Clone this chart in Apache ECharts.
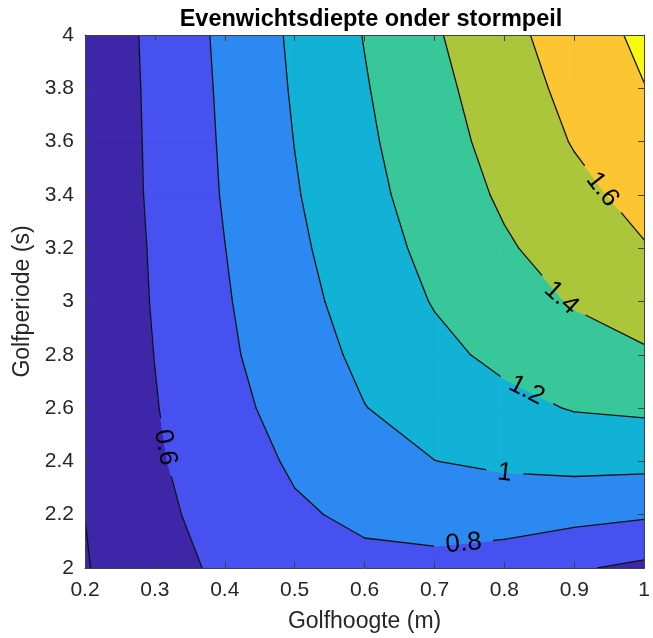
<!DOCTYPE html>
<html>
<head>
<meta charset="utf-8">
<script src="https://cdn.jsdelivr.net/npm/echarts@6/dist/echarts.min.js"></script>
<style>
  html, body { margin: 0; padding: 0; background: #fff; }
  #chart { width: 653px; height: 638px; }
</style>
</head>
<body>
<div id="chart"></div>
<script>
// grid of the computed equilibrium depth
const golfhoogte = [0.2, 0.3, 0.4, 0.5, 0.6, 0.7, 0.8, 0.9, 1.0];
const golfperiode = [2.0, 2.2, 2.4, 2.6, 2.8, 3.0, 3.2, 3.4, 3.6, 3.8, 4.0];
// rows follow golfperiode, columns follow golfhoogte
const diepte = [
  [0.387, 0.550, 0.624, 0.700, 0.755, 0.749, 0.709, 0.620, 0.560],
  [0.401, 0.560, 0.665, 0.775, 0.835, 0.874, 0.879, 0.856, 0.823],
  [0.420, 0.577, 0.707, 0.825, 0.916, 0.998, 1.033, 1.057, 1.054],
  [0.426, 0.591, 0.740, 0.874, 0.996, 1.074, 1.148, 1.211, 1.233],
  [0.430, 0.603, 0.767, 0.910, 1.040, 1.153, 1.244, 1.320, 1.379],
  [0.434, 0.614, 0.783, 0.939, 1.080, 1.211, 1.316, 1.414, 1.487],
  [0.437, 0.621, 0.798, 0.963, 1.115, 1.253, 1.378, 1.485, 1.589],
  [0.440, 0.631, 0.814, 0.986, 1.144, 1.291, 1.428, 1.549, 1.660],
  [0.443, 0.635, 0.823, 1.003, 1.167, 1.321, 1.470, 1.612, 1.727],
  [0.446, 0.639, 0.832, 1.018, 1.187, 1.348, 1.505, 1.656, 1.795],
  [0.450, 0.645, 0.842, 1.031, 1.207, 1.379, 1.543, 1.696, 1.843]
];
const niveaus = [0.4, 0.6, 0.8, 1.0, 1.2, 1.4, 1.6, 1.8];
// one colour per band: below 0.4, 0.4-0.6, ..., above 1.8
const kleuren = ['#3d26a7', '#3d26a7', '#4651f0', '#2c89f1', '#12b1d6', '#38c798', '#abc63a', '#fcc532', '#f8fa0d'];

// contour labels (approximate spot on the line)
const labelH = [0.306, 0.742, 0.800, 0.829, 0.877, 0.933];
const labelT = [2.449, 2.084, 2.338, 2.651, 3.003, 3.406];
const labelNiveau = [0.6, 0.8, 1.0, 1.2, 1.4, 1.6];

const FONT = '"Liberation Sans", Arial, Helvetica, sans-serif';
const LABEL_SIZE = 26;

const cellen = [];
for (let j = 0; j < golfperiode.length - 1; j++) {
  for (let i = 0; i < golfhoogte.length - 1; i++) {
    cellen.push([golfhoogte[i], golfperiode[j], i, j]);
  }
}

// corners of a cell in pixels with their value: bl, br, tr, tl
function hoeken(api, i, j) {
  return [[i, j], [i + 1, j], [i + 1, j + 1], [i, j + 1]].map(([a, b]) => {
    const p = api.coord([golfhoogte[a], golfperiode[b]]);
    return [p[0], p[1], diepte[b][a]];
  });
}

function clip(poly, level, boven) {
  const out = [];
  const binnen = p => (boven ? p[2] >= level : p[2] < level);
  for (let k = 0; k < poly.length; k++) {
    const a = poly[k], b = poly[(k + 1) % poly.length];
    const ia = binnen(a), ib = binnen(b);
    if (ia) out.push(a);
    if (ia !== ib) {
      const t = (level - a[2]) / (b[2] - a[2]);
      out.push([a[0] + t * (b[0] - a[0]), a[1] + t * (b[1] - a[1]), level]);
    }
  }
  return out;
}

function segmenten(quad, level) {
  const pts = [];
  for (let e = 0; e < 4; e++) {
    const a = quad[e], b = quad[(e + 1) % 4];
    if ((a[2] < level) !== (b[2] < level)) {
      const t = (level - a[2]) / (b[2] - a[2]);
      pts.push([a[0] + t * (b[0] - a[0]), a[1] + t * (b[1] - a[1])]);
    }
  }
  if (pts.length === 2) return [[pts[0], pts[1]]];
  if (pts.length === 4) {
    const mid = (quad[0][2] + quad[1][2] + quad[2][2] + quad[3][2]) / 4;
    if ((mid < level) === (quad[0][2] < level)) return [[pts[0], pts[1]], [pts[2], pts[3]]];
    return [[pts[3], pts[0]], [pts[1], pts[2]]];
  }
  return [];
}

// parameters where segment p->q meets a circle
function snijT(p, q, c, r) {
  const dx = q[0] - p[0], dy = q[1] - p[1];
  const fx = p[0] - c[0], fy = p[1] - c[1];
  const a = dx * dx + dy * dy;
  const b = 2 * (dx * fx + dy * fy);
  const cc = fx * fx + fy * fy - r * r;
  const disc = b * b - 4 * a * cc;
  if (a === 0 || disc <= 0) return null;
  const s = Math.sqrt(disc);
  return [(-b - s) / (2 * a), (-b + s) / (2 * a)];
}

function tekstBreedte(tekst) {
  const ctx = document.createElement('canvas').getContext('2d');
  ctx.font = LABEL_SIZE + 'px ' + FONT;
  return ctx.measureText(tekst).width;
}

let plaatsen = null;
function labelPlaatsen(api) {
  if (plaatsen) return plaatsen;
  plaatsen = labelNiveau.map((level, n) => {
    const p0 = api.coord([labelH[n], labelT[n]]);
    const segs = [];
    cellen.forEach(c => segs.push(...segmenten(hoeken(api, c[2], c[3]), level)));
    let best = null, bd = Infinity;
    segs.forEach(([a, b]) => {
      const dx = b[0] - a[0], dy = b[1] - a[1];
      const len2 = dx * dx + dy * dy;
      let t = len2 ? ((p0[0] - a[0]) * dx + (p0[1] - a[1]) * dy) / len2 : 0;
      t = Math.max(0, Math.min(1, t));
      const x = a[0] + t * dx, y = a[1] + t * dy;
      const d = (x - p0[0]) ** 2 + (y - p0[1]) ** 2;
      if (d < bd) { bd = d; best = { x, y, dx, dy }; }
    });
    const tekst = String(level);
    const r = tekstBreedte(tekst) / 2 + 12;
    const c = [best.x, best.y];
    const hits = [];
    segs.forEach(([a, b]) => {
      const ts = snijT(a, b, c, r);
      if (!ts) return;
      ts.forEach(t => {
        if (t >= 0 && t <= 1) hits.push([a[0] + t * (b[0] - a[0]), a[1] + t * (b[1] - a[1])]);
      });
    });
    let dx = best.dx, dy = best.dy;
    if (hits.length === 2) { dx = hits[1][0] - hits[0][0]; dy = hits[1][1] - hits[0][1]; }
    if (dx < 0) { dx = -dx; dy = -dy; }
    return { x: best.x, y: best.y, r, level, tekst, rot: -Math.atan2(dy, dx) };
  });
  return plaatsen;
}

// pieces of p->q that stay outside the label gaps
function stukken(p, q, gaten) {
  let delen = [[0, 1]];
  gaten.forEach(g => {
    const ts = snijT(p, q, [g.x, g.y], g.r);
    if (!ts) return;
    const nieuw = [];
    delen.forEach(([s, e]) => {
      const a = Math.max(s, ts[0]), b = Math.min(e, ts[1]);
      if (a >= b) { nieuw.push([s, e]); return; }
      if (a > s) nieuw.push([s, a]);
      if (b < e) nieuw.push([b, e]);
    });
    delen = nieuw;
  });
  return delen.map(([s, e]) => [
    [p[0] + s * (q[0] - p[0]), p[1] + s * (q[1] - p[1])],
    [p[0] + e * (q[0] - p[0]), p[1] + e * (q[1] - p[1])]
  ]);
}

function renderVulling(params, api) {
  const quad = hoeken(api, api.value(2), api.value(3));
  const children = [];
  for (let k = 0; k <= niveaus.length; k++) {
    let poly = quad;
    if (k > 0) poly = clip(poly, niveaus[k - 1], true);
    if (k < niveaus.length) poly = clip(poly, niveaus[k], false);
    if (poly.length < 3) continue;
    children.push({
      type: 'polygon',
      shape: { points: poly.map(p => [p[0], p[1]]) },
      style: { fill: kleuren[k], stroke: kleuren[k], lineWidth: 1 }
    });
  }
  return { type: 'group', children };
}

function renderLijnen(params, api) {
  const gaten = labelPlaatsen(api);
  const quad = hoeken(api, api.value(2), api.value(3));
  const children = [];
  niveaus.forEach(level => {
    segmenten(quad, level).forEach(([p, q]) => {
      stukken(p, q, gaten.filter(g => g.level === level)).forEach(([a, b]) => {
        children.push({
          type: 'line',
          shape: { x1: a[0], y1: a[1], x2: b[0], y2: b[1] },
          style: { stroke: '#111', lineWidth: 1.3, lineCap: 'round' }
        });
      });
    });
  });
  return { type: 'group', children };
}

function renderLabel(params, api) {
  const l = labelPlaatsen(api)[params.dataIndex];
  return {
    type: 'text',
    x: l.x,
    y: l.y,
    rotation: l.rot,
    style: {
      text: l.tekst,
      fill: '#000',
      font: LABEL_SIZE + 'px ' + FONT,
      align: 'center',
      verticalAlign: 'middle'
    }
  };
}

const asKleur = '#404040';
const tekstKleur = '#262626';
const fmt = v => String(Math.round(v * 10) / 10);

const chart = echarts.init(document.getElementById('chart'));
chart.setOption({
  animation: false,
  title: {
    text: 'Evenwichtsdiepte onder stormpeil',
    left: 366,
    top: 3,
    textAlign: 'center',
    textStyle: { fontFamily: FONT, fontSize: 23.5, fontWeight: 'bold', color: '#000' }
  },
  grid: { left: 85, right: 6, top: 35, bottom: 68 },
  xAxis: [
    {
      type: 'value', min: 0.2, max: 1, interval: 0.1, z: 10,
      name: 'Golfhoogte (m)', nameLocation: 'middle', nameGap: 42,
      nameTextStyle: { fontFamily: FONT, fontSize: 23, color: tekstKleur },
      axisLine: { lineStyle: { color: asKleur, width: 1 } },
      axisTick: { inside: true, length: 6, lineStyle: { color: asKleur } },
      axisLabel: { margin: 12, fontFamily: FONT, fontSize: 21, color: tekstKleur, formatter: fmt },
      splitLine: { show: false }
    },
    {
      type: 'value', position: 'top', min: 0.2, max: 1, interval: 0.1, z: 10,
      axisLine: { lineStyle: { color: asKleur, width: 1 } },
      axisTick: { inside: true, length: 6, lineStyle: { color: asKleur } },
      axisLabel: { show: false },
      splitLine: { show: false }
    }
  ],
  yAxis: [
    {
      type: 'value', min: 2, max: 4, interval: 0.2, z: 10,
      name: 'Golfperiode (s)', nameLocation: 'middle', nameGap: 50, nameRotate: 90,
      nameTextStyle: { fontFamily: FONT, fontSize: 23, color: tekstKleur },
      axisLine: { lineStyle: { color: asKleur, width: 1 } },
      axisTick: { inside: true, length: 6, lineStyle: { color: asKleur } },
      axisLabel: { margin: 11, fontFamily: FONT, fontSize: 21, color: tekstKleur, formatter: fmt },
      splitLine: { show: false }
    },
    {
      type: 'value', position: 'right', min: 2, max: 4, interval: 0.2, z: 10,
      axisLine: { lineStyle: { color: asKleur, width: 1 } },
      axisTick: { inside: true, length: 6, lineStyle: { color: asKleur } },
      axisLabel: { show: false },
      splitLine: { show: false }
    }
  ],
  series: [
    {
      name: 'vulling', type: 'custom', renderItem: renderVulling,
      data: cellen, encode: { x: 0, y: 1 }, clip: true, z: 1, silent: true
    },
    {
      name: 'lijnen', type: 'custom', renderItem: renderLijnen,
      data: cellen, encode: { x: 0, y: 1 }, clip: true, z: 2, silent: true
    },
    {
      name: 'labels', type: 'custom', renderItem: renderLabel,
      data: labelH.map((h, n) => [h, labelT[n], labelNiveau[n]]),
      encode: { x: 0, y: 1 }, z: 3, silent: true
    }
  ]
});
</script>
</body>
</html>
